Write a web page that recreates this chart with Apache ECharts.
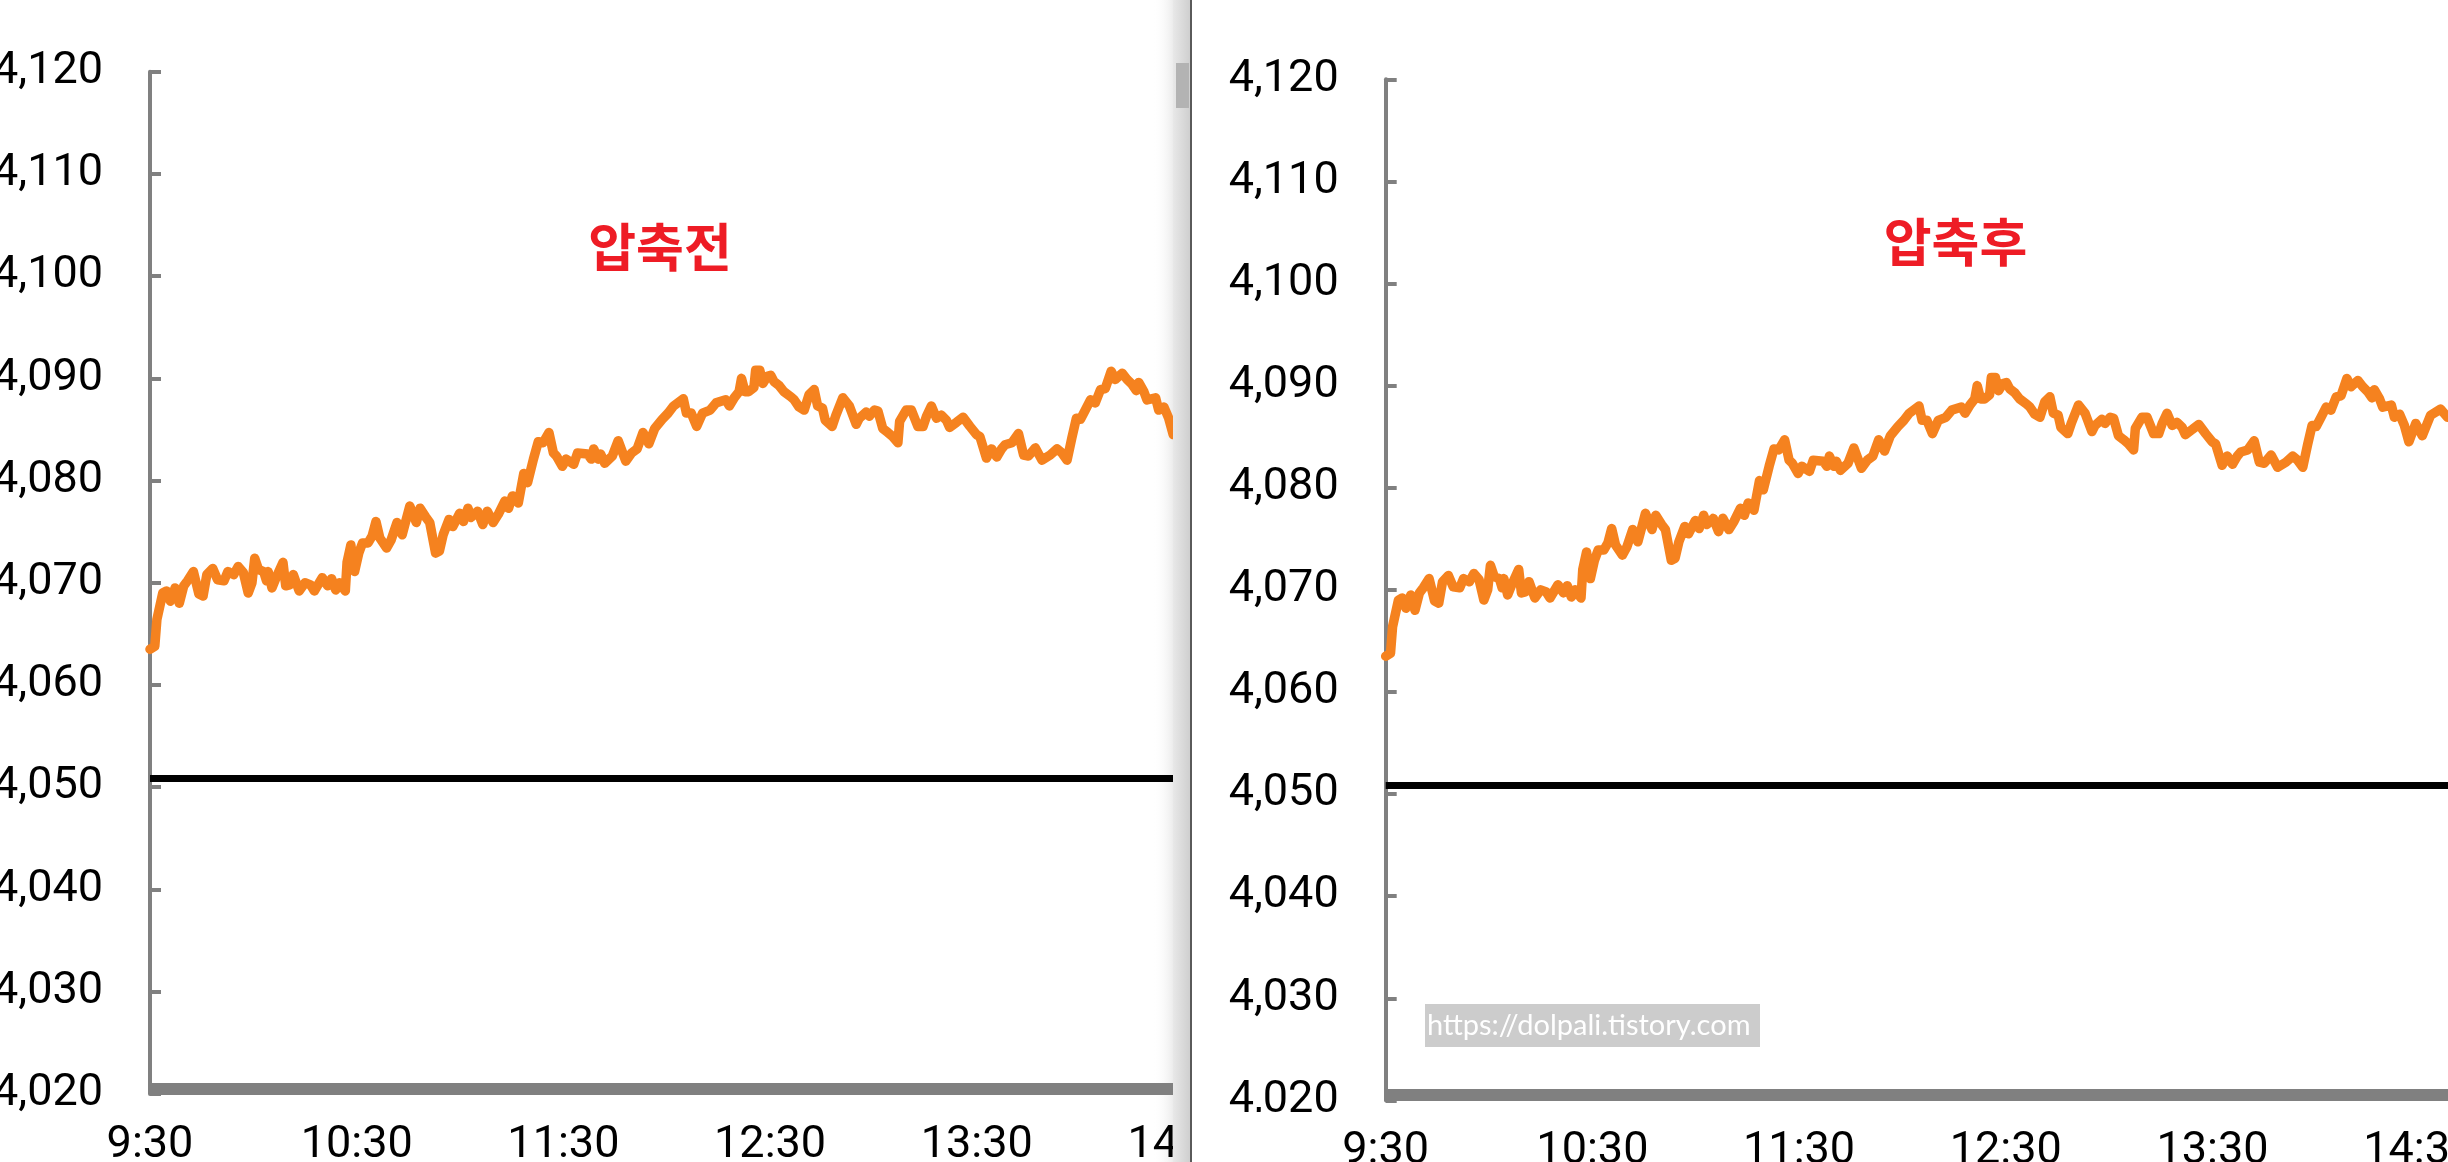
<!DOCTYPE html>
<html>
<head>
<meta charset="utf-8">
<script src="https://cdn.jsdelivr.net/npm/echarts@6/dist/echarts.min.js"></script>
<style>
html,body{margin:0;padding:0;background:#fff;}
#chart{width:2448px;height:1162px;}
</style>
</head>
<body>
<div id="chart"></div>
<script>
// ---- data ----
const minutesFromOpen = [0,1.4,2.0,3.7,4.8,5.9,7.3,8.5,9.8,10.9,12.6,14.2,15.4,16.5,18.2,19.6,21.5,22.6,24.3,25.6,27.1,28.5,29.6,30.4,31.5,33.0,33.8,34.3,35.4,36.6,38.6,39.4,40.5,41.6,43.3,45.0,46.6,47.7,50.0,51.6,52.7,53.9,55.0,56.7,57.2,58.3,59.4,60.6,61.7,63.3,64.5,65.6,66.7,68.7,70.0,71.7,73.2,75.4,77.3,78.4,80.1,81.2,82.9,84.0,85.1,86.8,87.9,89.9,91.0,92.3,93.2,95.1,96.6,97.9,99.6,101.1,103.0,104.1,105.2,106.9,108.5,109.6,111.3,112.7,114.1,115.8,117.1,118.0,119.7,120.8,123.0,124.1,127.0,128.1,128.8,130.1,130.8,132.0,134.2,135.9,138.1,139.8,141.4,143.1,144.8,146.5,148.7,150.4,152.0,154.8,155.7,157.1,158.7,160.4,162.6,164.3,167.1,168.2,169.6,171.0,171.7,172.7,173.8,175.3,175.8,177.0,177.9,179.2,180.2,181.1,182.6,184.0,186.0,187.0,188.4,189.9,191.3,192.8,193.8,195.2,196.0,198.0,199.1,201.1,203.0,205.0,205.9,207.9,208.8,210.3,211.3,212.7,214.2,215.6,217.1,217.6,219.5,221.0,222.9,224.4,225.4,226.8,228.3,229.7,231.2,232.1,234.1,236.0,238.0,239.9,240.9,242.8,244.3,245.8,247.2,248.2,250.2,252.1,253.6,255.0,257.0,258.9,261.3,263.3,264.7,266.2,267.6,268.9,270.1,271.5,273.0,274.4,275.9,277.3,279.0,280.2,282.2,283.6,285.1,286.3,287.0,288.5,289.4,291.9,292.8,294.3,295.7,297.0,298.0,299.0,300.9,303.3,306.2,308.2];
const indexValues = [4063.5,4063.8,4066.4,4069.0,4069.2,4068.2,4069.5,4068.0,4069.7,4070.2,4071.1,4068.9,4068.7,4070.8,4071.4,4070.3,4070.2,4071.1,4070.8,4071.6,4071.0,4069.0,4070.0,4072.4,4071.3,4071.1,4070.2,4071.1,4069.5,4070.5,4072.0,4069.7,4069.8,4070.8,4069.2,4070.0,4069.8,4069.2,4070.5,4069.7,4070.4,4069.3,4070.0,4069.2,4072.0,4073.7,4071.1,4072.9,4073.9,4073.9,4074.6,4076.0,4074.4,4073.4,4074.2,4075.9,4074.7,4077.5,4075.9,4077.3,4076.4,4075.9,4072.9,4073.1,4074.7,4076.2,4075.5,4076.8,4076.0,4077.3,4076.4,4077.0,4075.7,4077.0,4075.9,4076.7,4078.0,4077.3,4078.5,4077.8,4080.7,4079.8,4082.1,4083.8,4083.7,4084.7,4082.7,4082.4,4081.4,4082.1,4081.6,4082.7,4082.6,4082.1,4083.1,4082.1,4082.6,4081.7,4082.4,4083.9,4081.9,4082.7,4083.1,4084.7,4083.6,4085.1,4086.0,4086.6,4087.3,4088.0,4086.6,4086.6,4085.3,4086.6,4086.9,4087.6,4087.9,4087.3,4088.1,4088.7,4090.0,4088.7,4088.7,4089.1,4090.8,4090.8,4089.5,4090.2,4090.3,4089.7,4089.3,4088.7,4088.2,4087.9,4087.2,4086.9,4088.4,4088.9,4087.3,4087.1,4085.9,4085.3,4086.4,4088.1,4087.3,4085.5,4086.1,4086.7,4086.3,4086.9,4086.8,4085.1,4084.7,4084.3,4083.7,4085.8,4086.9,4086.9,4085.3,4085.3,4086.3,4087.3,4086.1,4086.4,4085.9,4085.2,4085.7,4086.2,4085.3,4084.5,4084.3,4082.2,4083.1,4082.3,4083.1,4083.5,4083.7,4084.6,4082.5,4082.4,4083.2,4082.0,4082.5,4083.1,4082.7,4082.0,4084.2,4086.1,4086.0,4086.9,4087.9,4087.6,4088.9,4089.0,4090.7,4089.9,4090.5,4089.9,4089.4,4088.8,4089.6,4088.7,4087.9,4088.1,4086.9,4087.2,4086.1,4084.5,4085.4,4086.3,4085.1,4087.1,4087.7,4086.9];
const referenceLevel = 4050.9;
const panelTitles = ['압축전', '압축후'];
const yTickLabels = ['4,020','4,030','4,040','4,050','4,060','4,070','4,080','4,090','4,100','4,110','4,120'];
const xTickLabels = ['9:30','10:30','11:30','12:30','13:30','14:30'];
const watermarkText = 'https://dolpali.tistory.com';

// ---- build ----
const seriesData = minutesFromOpen.map((m, i) => [m, indexValues[i]]);
const PX_PER_MIN = 3.445;
const axisGray = '#808080';
const lineOrange = '#f5821f';

const panels = [
  { left: 150, top: 71.7, height: 1022.2, width: 1074.8, xOffset: -5 },
  { left: 1385.7, top: 79.3, height: 1021.1, width: 1062.3, xOffset: -5.4 }
];

function yAxisFor(i) {
  return {
    type: 'value', gridIndex: i, min: 4020, max: 4120, interval: 10,
    axisLine: { show: true, lineStyle: { color: axisGray, width: 4 } },
    axisTick: { show: true, inside: true, length: 11, lineStyle: { color: axisGray, width: 4 } },
    splitLine: { show: false },
    axisLabel: {
      margin: 47, color: '#000', fontFamily: 'Roboto', fontSize: 45,
      formatter: v => yTickLabels[Math.round((v - 4020) / 10)] || ''
    }
  };
}
function xAxisFor(i) {
  const p = panels[i];
  return {
    type: 'value', gridIndex: i, min: 0, max: p.width / PX_PER_MIN, interval: 60,
    offset: p.xOffset,
    axisLine: { show: true, onZero: false, lineStyle: { color: axisGray, width: 12, cap: 'butt' } },
    axisTick: { show: false },
    splitLine: { show: false },
    axisLabel: {
      margin: 34, color: '#000', fontFamily: 'Roboto', fontSize: 45,
      showMinLabel: true, showMaxLabel: true, hideOverlap: false,
      formatter: v => (Math.abs(v % 60) < 1e-6 ? (xTickLabels[Math.round(v / 60)] || '') : '')
    }
  };
}
function seriesFor(i) {
  return {
    type: 'line', xAxisIndex: i, yAxisIndex: i, data: seriesData,
    symbol: 'none', smooth: false, clip: true, z: 3,
    lineStyle: { color: lineOrange, width: 9.5, join: 'round', cap: 'round' },
    markLine: {
      silent: true, symbol: ['none', 'none'], animation: false,
      label: { show: false },
      lineStyle: { color: '#000', width: 7, type: 'solid' },
      data: [{ yAxis: referenceLevel }]
    }
  };
}

const chart = echarts.init(document.getElementById('chart'), null, { renderer: 'canvas', width: 2448, height: 1162 });
chart.setOption({
  animation: false,
  backgroundColor: '#fff',
  grid: panels.map(p => ({ left: p.left, top: p.top, width: p.width, height: p.height, containLabel: false, outerBoundsMode: 'none' })),
  xAxis: [xAxisFor(0), xAxisFor(1)],
  yAxis: [yAxisFor(0), yAxisFor(1)],
  series: [seriesFor(0), seriesFor(1)],
  graphic: [
    // soft shade before the window divider (under the line)
    { type: 'rect', z: 0, shape: { x: 1153, y: 0, width: 20, height: 1162 },
      style: { fill: new echarts.graphic.LinearGradient(0, 0, 1, 0, [{ offset: 0, color: 'rgba(255,255,255,0)' }, { offset: 1, color: '#ececec' }]) } },
    // scrollbar track (covers left chart)
    { type: 'rect', z: 100, shape: { x: 1173, y: 0, width: 17, height: 1162 },
      style: { fill: new echarts.graphic.LinearGradient(0, 0, 1, 0, [{ offset: 0, color: '#e8e8e8' }, { offset: 1, color: '#cfcfcf' }]) } },
    { type: 'rect', z: 101, shape: { x: 1176, y: 63, width: 13, height: 45 }, style: { fill: '#b3b3b3' } },
    { type: 'rect', z: 100, shape: { x: 1190, y: 0, width: 2, height: 1162 }, style: { fill: '#5a5a5a' } },
    { type: 'rect', z: 100, shape: { x: 1192, y: 0, width: 34, height: 1162 }, style: { fill: '#ffffff' } },
    { type: 'rect', z: 100, shape: { x: 1192, y: 1112, width: 140, height: 50 }, style: { fill: '#ffffff' } },
    // titles
    { type: 'text', z: 50, x: 660, y: 247, style: { text: panelTitles[0], font: 'bold 52px "Noto Sans CJK KR"', fill: '#ee1c25', align: 'center', verticalAlign: 'middle' } },
    { type: 'text', z: 50, x: 1955.5, y: 242, style: { text: panelTitles[1], font: 'bold 52px "Noto Sans CJK KR"', fill: '#ee1c25', align: 'center', verticalAlign: 'middle' } },
    // watermark
    { type: 'rect', z: 50, shape: { x: 1425, y: 1004, width: 335, height: 43 }, style: { fill: '#cccccc' } },
    { type: 'text', z: 51, x: 1427, y: 1025.5, style: { text: watermarkText, font: '29px Lato', fill: '#ffffff', align: 'left', verticalAlign: 'middle' } }
  ]
});
</script>
</body>
</html>
